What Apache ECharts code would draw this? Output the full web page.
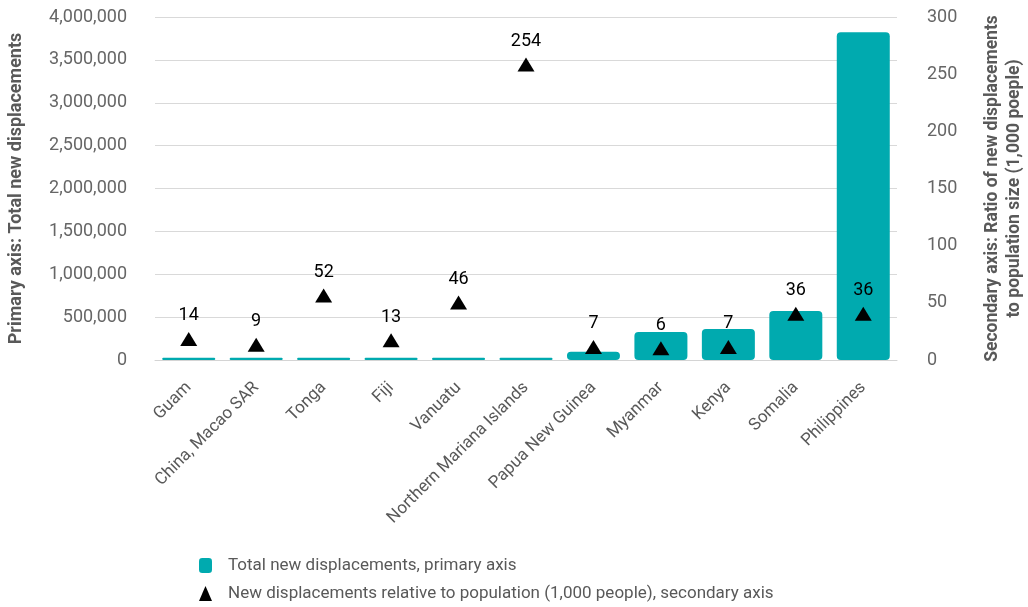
<!DOCTYPE html>
<html>
<head>
<meta charset="utf-8">
<script src="https://cdn.jsdelivr.net/npm/echarts@6/dist/echarts.min.js"></script>
<style>html,body{margin:0;padding:0;background:#fff}#c{width:1028px;height:607px}</style>
</head>
<body>
<div id="c"></div>
<script>
const categories = ['Guam','China, Macao SAR','Tonga','Fiji','Vanuatu','Northern Mariana Islands','Papua New Guinea','Myanmar','Kenya','Somalia','Philippines'];
const totalDisplacements = [25000, 25000, 25000, 25000, 25000, 25000, 95000, 326000, 361000, 571000, 3822000];
const ratioPer1000 = [14, 9, 52, 13, 46, 254, 7, 6, 7, 36, 36];
const leftTicks = {min: 0, max: 4000000, interval: 500000};
const rightTicks = {min: 0, max: 300, interval: 50};
const seriesNames = ['Total new displacements, primary axis', 'New displacements relative to population (1,000 people), secondary axis'];

const FONT = 'Roboto';
const chart = echarts.init(document.getElementById('c'), null, {renderer: 'canvas'});
chart.setOption({
  animation: false,
  textStyle: {fontFamily: FONT},
  grid: {left: 155, right: 131, top: 17, bottom: 247, containLabel: false, outerBoundsMode: 'none'},
  legend: {
    orient: 'vertical', left: 199, top: 557, itemGap: 11, padding: 0, height: 60,
    textStyle: {fontFamily: FONT, fontSize: 17, color: '#595959', padding: [0, 0, 0, 11]},
    data: [
      {name: seriesNames[0], icon: 'roundRect', itemStyle: {color: '#00AAAF'}},
      {name: seriesNames[1], icon: 'triangle', itemStyle: {color: '#000'}}
    ],
    itemWidth: 13, itemHeight: 15
  },
  xAxis: {
    type: 'category', data: categories,
    axisTick: {show: false},
    axisLine: {lineStyle: {color: '#d4d4d4', width: 1}},
    axisLabel: {rotate: 45, fontSize: 17, color: '#595959', fontFamily: FONT, margin: 25, interval: 0}
  },
  yAxis: [
    {
      type: 'value', min: leftTicks.min, max: leftTicks.max, interval: leftTicks.interval,
      name: 'Primary axis: Total new displacements', nameLocation: 'middle', nameGap: 130, nameRotate: 90,
      nameTextStyle: {fontSize: 18, fontWeight: 'bold', color: '#595959', fontFamily: FONT},
      axisLabel: {fontSize: 18, color: '#666', fontFamily: FONT, margin: 28,
        formatter: v => v.toLocaleString('en-US')},
      splitLine: {lineStyle: {color: '#d9d9d9', width: 1}},
      axisLine: {show: false}, axisTick: {show: false}
    },
    {
      type: 'value', min: rightTicks.min, max: rightTicks.max, interval: rightTicks.interval,
      name: 'Secondary axis: Ratio of new displacements\nto population size (1,000 poeple)',
      nameLocation: 'middle', nameGap: 85, nameRotate: 90,
      nameTextStyle: {fontSize: 17.5, fontWeight: 'bold', color: '#595959', fontFamily: FONT, lineHeight: 22, align: 'center'},
      axisLabel: {fontSize: 18, color: '#666', fontFamily: FONT, margin: 30},
      splitLine: {show: false},
      axisLine: {show: false}, axisTick: {show: false}
    }
  ],
  series: [
    {
      name: seriesNames[0], type: 'bar', yAxisIndex: 0, data: totalDisplacements,
      barWidth: 53, barMinHeight: 2,
      itemStyle: {color: '#00AAAF', borderRadius: 4}
    },
    {
      name: seriesNames[1], type: 'scatter', yAxisIndex: 1, data: ratioPer1000,
      symbol: 'triangle', symbolSize: [17, 14], symbolOffset: [0, -5],
      itemStyle: {color: '#000', opacity: 1},
      label: {show: true, position: 'top', distance: 7, fontSize: 18, color: '#000', fontFamily: FONT},
      z: 5
    }
  ]
});
</script>
</body>
</html>
